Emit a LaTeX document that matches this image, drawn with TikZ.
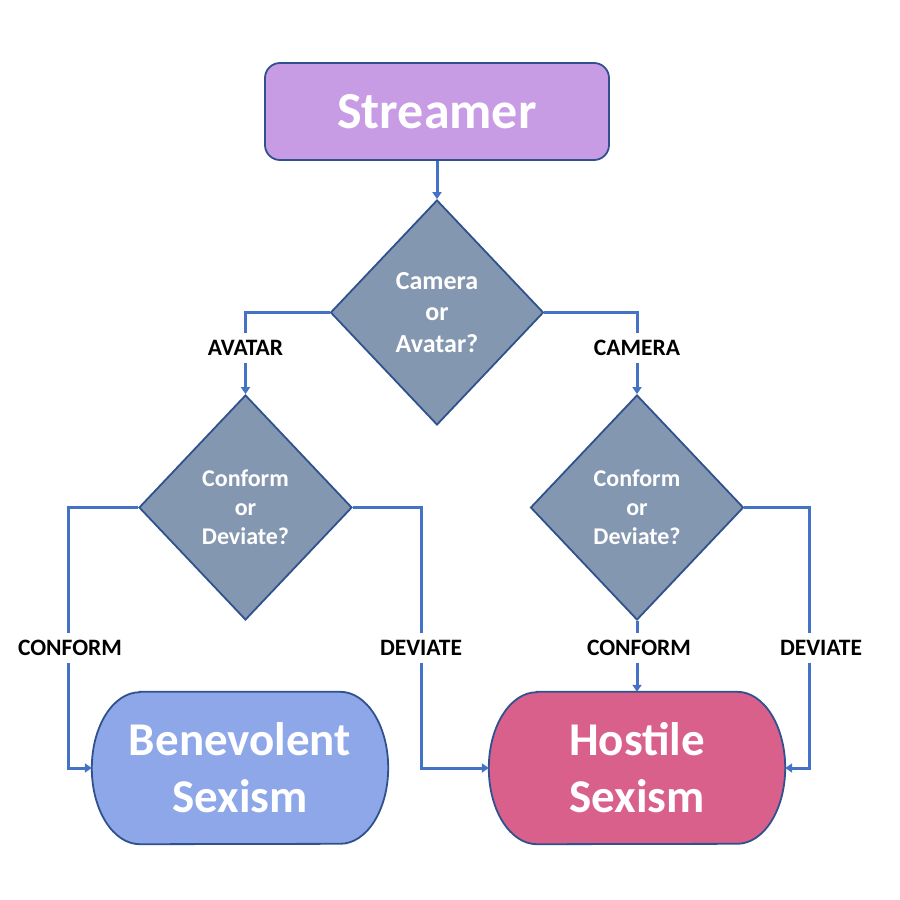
\documentclass[tikz,border=0pt]{standalone}
\usepackage{fontspec}
\setmainfont{Carlito}
\usetikzlibrary{shapes.geometric,arrows.meta,backgrounds}
\definecolor{bordercol}{HTML}{2F528F}
\definecolor{linecol}{HTML}{4472C4}
\definecolor{streamfill}{HTML}{C89BE5}
\definecolor{diafill}{HTML}{8497B0}
\definecolor{benfill}{HTML}{8EA7E8}
\definecolor{hostfill}{HTML}{D9608A}
\tikzset{
  startbox/.style={draw=bordercol, line width=1.8pt, fill=streamfill, rounded corners=15pt,
    minimum width=344pt, minimum height=97pt, inner sep=0pt, text=white,
    font=\fontsize{52}{60}\selectfont\bfseries},
  decision/.style={diamond, draw=bordercol, line width=1.8pt, fill=diafill,
    minimum width=213pt, minimum height=225pt, inner sep=0pt, text=white, align=center},
  topfont/.style={font=\fontsize{26}{31.5}\selectfont\bfseries},
  lowfont/.style={font=\fontsize{24}{29}\selectfont\bfseries},
  endbox/.style={minimum width=296pt, minimum height=152pt, inner sep=0pt, text=white,
    align=center, font=\fontsize{47}{57}\selectfont\bfseries},
  lbl/.style={fill=white, inner xsep=2pt, inner ysep=7pt, text=black,
    font=\fontsize{23.5}{27}\selectfont\bfseries},
  conn/.style={draw=linecol, line width=3pt},
  arr/.style={conn, -{Triangle[width=9pt,length=7pt]}},
}
\newcommand{\stadium}[2]{%
  \path[fill=#2, draw=bordercol, line width=1.8pt] ([xshift=48pt]#1.north west) -- ([xshift=-48pt]#1.north east)
    arc[start angle=90,end angle=-90,x radius=48pt,y radius=76pt]
    -- ([xshift=48pt]#1.south west)
    arc[start angle=270,end angle=90,x radius=48pt,y radius=76pt] -- cycle;}
\begin{document}
\begin{tikzpicture}[x=1pt,y=-1pt]
\useasboundingbox (0,0) rectangle (900,900);
% nodes
\node[startbox] (streamer) at (437,111.5) {Streamer};
\node[decision, topfont] (top) at (437,312.5) {Camera\\or\\Avatar?};
\node[decision, lowfont] (ld) at (245.5,507.5) {Conform\\or\\Deviate?};
\node[decision, lowfont] (rd) at (637,507.5) {Conform\\or\\Deviate?};
\node[endbox] (ben) at (240,768) {Benevolent\\Sexism};
\node[endbox] (host) at (637,768) {Hostile\\Sexism};
\begin{scope}[on background layer]
  \fill[white] (0,0) rectangle (900,900);
  \stadium{ben}{benfill}
  \stadium{host}{hostfill}
\end{scope}
% labels
\node[lbl] (avatar) at (245.5,348) {AVATAR};
\node[lbl] (camera) at (637,348) {CAMERA};
\node[lbl] (conf1) at (70,648) {CONFORM};
\node[lbl] (dev1) at (421,648) {DEVIATE};
\node[lbl] (conf2) at (639,648) {CONFORM};
\node[lbl] (dev2) at (821,648) {DEVIATE};
% connectors
\draw[arr] (streamer.south) -- (top.north);
\draw[conn] (top.west) -| (avatar.north);
\draw[arr] (avatar.south) -- (ld.north);
\draw[conn] (top.east) -| (camera.north);
\draw[arr] (camera.south) -- (rd.north);
\draw[conn] (ld.west) -| (68,0 |- conf1.north);
\draw[arr] (68,0 |- conf1.south) |- (ben.west);
\draw[conn] (ld.east) -| (dev1.north);
\draw[arr] (dev1.south) |- (host.west);
\draw[conn] (rd.south) -- (rd.south |- conf2.north);
\draw[arr] (rd.south |- conf2.south) -- (host.north);
\draw[conn] (rd.east) -| (809,0 |- dev2.north);
\draw[arr] (809,0 |- dev2.south) |- (host.east);
\end{tikzpicture}
\end{document}
